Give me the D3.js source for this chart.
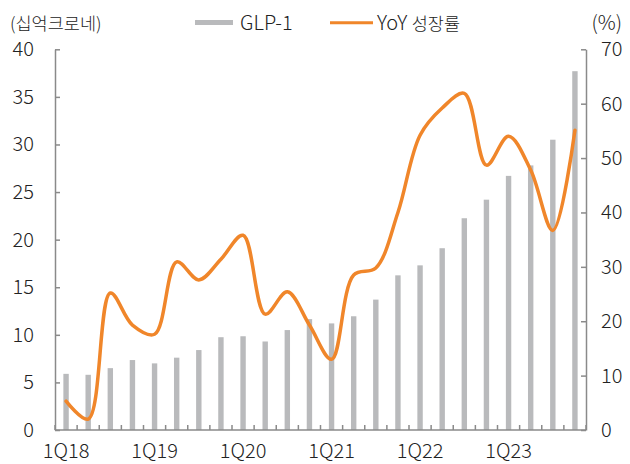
<!DOCTYPE html>
<html>
<head>
<meta charset="utf-8">
<script src="https://cdn.jsdelivr.net/npm/d3@7"></script>
<style>
  body { margin: 0; background: #fff; }
  text { font-family: "Noto Sans CJK KR", "Noto Sans", sans-serif; fill: #222; font-weight: 300; }
</style>
</head>
<body>
<div id="chart"></div>
<script>
const quarters = ["1Q18","2Q18","3Q18","4Q18","1Q19","2Q19","3Q19","4Q19",
                  "1Q20","2Q20","3Q20","4Q20","1Q21","2Q21","3Q21","4Q21",
                  "1Q22","2Q22","3Q22","4Q22","1Q23","2Q23","3Q23","4Q23"];
// GLP-1 sales (DKK bn)
const sales = [5.9, 5.8, 6.5, 7.35, 7.0, 7.6, 8.4, 9.75,
               9.85, 9.3, 10.5, 11.65, 11.2, 11.95, 13.7, 16.25,
               17.3, 19.1, 22.25, 24.2, 26.7, 27.8, 30.5, 37.7];
// YoY growth (%)
const growth = [5.3, 2.0, 25.2, 19.3, 17.6, 30.9, 27.6, 31.4,
                35.8, 21.3, 25.4, 19.3, 13.0, 28.5, 29.8, 40.0,
                54.2, 59.2, 61.9, 48.7, 54.0, 47.8, 36.7, 55.1];
const yearLabels = ["1Q18","1Q19","1Q20","1Q21","1Q22","1Q23"];
const leftTicks = [0,5,10,15,20,25,30,35,40];
const rightTicks = [0,10,20,30,40,50,60,70];

const width = 630, height = 464;
const plotLeft = 55, plotRight = 586, plotTop = 49.3, plotBottom = 430;
const numSize = 20, hanSize = 17.5;

const svg = d3.select("#chart").append("svg")
    .attr("width", width)
    .attr("height", height);

const x = d3.scaleBand().domain(quarters).range([plotLeft, plotRight]).padding(0);
const yL = d3.scaleLinear().domain([0, 40]).range([plotBottom, plotTop]);
const yR = d3.scaleLinear().domain([0, 70]).range([plotBottom, plotTop]);

const axisColor = "#8a8a8a";

// bars
svg.append("g")
  .selectAll("rect")
  .data(quarters)
  .enter().append("rect")
    .attr("x", d => x(d) + x.bandwidth() / 2 - 2.7)
    .attr("width", 5.4)
    .attr("y", (d, i) => yL(sales[i]))
    .attr("height", (d, i) => plotBottom - yL(sales[i]))
    .attr("fill", "#b9babc");

// line
const line = d3.line()
    .x((d, i) => x(quarters[i]) + x.bandwidth() / 2)
    .y(d => yR(d))
    .curve(d3.curveCatmullRom.alpha(0.5));

svg.append("path")
    .datum(growth)
    .attr("d", line)
    .attr("fill", "none")
    .attr("stroke", "#f0862a")
    .attr("stroke-width", 3.5)
    .attr("stroke-linejoin", "round")
    .attr("stroke-linecap", "round");

// left axis
const gL = svg.append("g").attr("transform", `translate(${plotLeft},0)`)
    .call(d3.axisLeft(yL).tickValues(leftTicks).tickSizeInner(-5).tickSizeOuter(0).tickPadding(21));
// right axis
const gR = svg.append("g").attr("transform", `translate(${plotRight},0)`)
    .call(d3.axisRight(yR).tickValues(rightTicks).tickSizeInner(-5).tickSizeOuter(0).tickPadding(15));

// bottom axis: ticks between bars
const xTickPos = d3.range(quarters.length + 1).map(i => plotLeft + i * x.step());
const gB = svg.append("g");
gB.append("line")
    .attr("x1", plotLeft).attr("x2", plotRight)
    .attr("y1", plotBottom).attr("y2", plotBottom);
gB.selectAll("line.t")
  .data(xTickPos)
  .enter().append("line")
    .attr("class", "t")
    .attr("x1", d => d).attr("x2", d => d)
    .attr("y1", plotBottom).attr("y2", plotBottom - 5);
gB.selectAll("line").attr("stroke", axisColor).attr("stroke-width", 1.5);

gB.selectAll("text")
  .data(yearLabels)
  .enter().append("text")
    .attr("x", d => x(d) + x.bandwidth() / 2)
    .attr("y", 457.5)
    .attr("text-anchor", "middle")
    .attr("font-size", numSize)
    .text(d => d);

[gL, gR].forEach(g => {
  g.select(".domain").attr("stroke", axisColor).attr("stroke-width", 1.5);
  g.selectAll(".tick line").attr("stroke", axisColor).attr("stroke-width", 1.5);
  g.selectAll(".tick text").attr("font-size", numSize).attr("fill", "#222")
    .style("font-family", '"Noto Sans CJK KR", "Noto Sans", sans-serif')
    .style("font-weight", 300);
});

// unit labels
svg.append("text").attr("x", 10).attr("y", 30).attr("font-size", hanSize).text("(십억크로네)");
svg.append("text").attr("x", 622).attr("y", 30).attr("font-size", numSize)
    .attr("text-anchor", "end").text("(%)");

// legend
svg.append("rect").attr("x", 195).attr("y", 20).attr("width", 38).attr("height", 5).attr("fill", "#b9babc");
svg.append("text").attr("x", 240).attr("y", 30).attr("font-size", numSize).text("GLP-1");
svg.append("line").attr("x1", 330).attr("x2", 373).attr("y1", 22.7).attr("y2", 22.7)
    .attr("stroke", "#f0862a").attr("stroke-width", 3);
const lg = svg.append("text").attr("x", 377).attr("y", 30).attr("font-size", numSize);
lg.append("tspan").text("YoY ");
lg.append("tspan").attr("font-size", hanSize).text("성장률");
</script>
</body>
</html>
